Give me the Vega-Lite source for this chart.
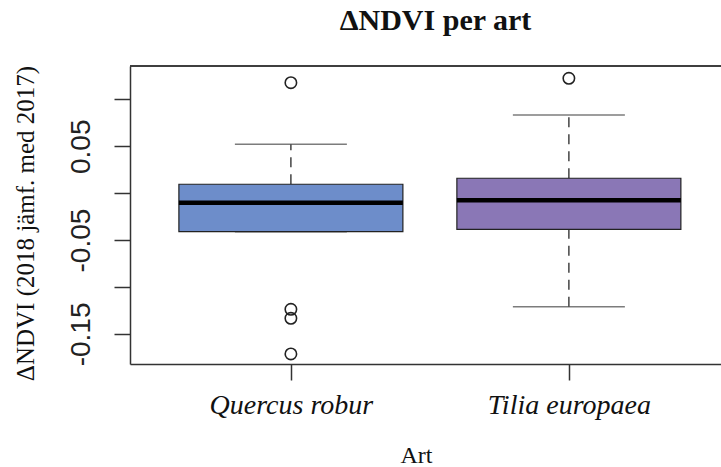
{
  "$schema": "https://vega.github.io/schema/vega-lite/v6.json",
  "autosize": {"type": "none"},
  "padding": {"left": 130, "top": 66, "right": 0, "bottom": 103},
  "width": 591,
  "height": 298,
  "background": "white",
  "view": {"stroke": null},
  "title": {
    "text": "ΔNDVI per art",
    "font": "Liberation Serif",
    "fontSize": 30,
    "fontWeight": "bold",
    "color": "#111",
    "anchor": "middle",
    "frame": "group",
    "dx": 10,
    "baseline": "alphabetic",
    "offset": 5
  },
  "datasets": {
    "box": [
      {"art": "Quercus robur", "lo": -0.041, "q1": -0.041, "median": -0.0101, "q3": 0.0095, "hi": 0.0521},
      {"art": "Tilia europaea", "lo": -0.1209, "q1": -0.0385, "median": -0.0076, "q3": 0.0159, "hi": 0.0833}
    ],
    "outliers": [
      {"art": "Quercus robur", "value": 0.1177},
      {"art": "Quercus robur", "value": -0.1237},
      {"art": "Quercus robur", "value": -0.1333},
      {"art": "Quercus robur", "value": -0.1713},
      {"art": "Tilia europaea", "value": 0.1224}
    ]
  },
  "config": {
    "axis": {"grid": false, "domainColor": "#333", "domainWidth": 1.5, "tickColor": "#333", "tickWidth": 1.5}
  },
  "layer": [
    {
      "data": {"name": "box"},
      "mark": {"type": "rule", "color": "#333", "strokeWidth": 1.5},
      "encoding": {"y": {"datum": 0.1355, "type": "quantitative", "scale": {"domain": [-0.182, 0.1355], "nice": false, "zero": false}}}
    },
    {
      "data": {"name": "box"},
      "mark": {"type": "rule", "color": "#444", "strokeWidth": 1.5, "strokeDash": [10, 7]},
      "encoding": {
        "x": {"field": "art", "type": "nominal"},
        "y": {"field": "q3", "type": "quantitative"},
        "y2": {"field": "hi"}
      }
    },
    {
      "data": {"name": "box"},
      "mark": {"type": "rule", "color": "#444", "strokeWidth": 1.5, "strokeDash": [10, 7]},
      "encoding": {
        "x": {"field": "art", "type": "nominal"},
        "y": {"field": "lo", "type": "quantitative"},
        "y2": {"field": "q1"}
      }
    },
    {
      "data": {"name": "box"},
      "mark": {"type": "tick", "color": "#444", "size": 112, "thickness": 1.5, "orient": "horizontal"},
      "encoding": {
        "x": {"field": "art", "type": "nominal"},
        "y": {"field": "hi", "type": "quantitative"}
      }
    },
    {
      "data": {"name": "box"},
      "mark": {"type": "tick", "color": "#444", "size": 112, "thickness": 1.5, "orient": "horizontal"},
      "encoding": {
        "x": {"field": "art", "type": "nominal"},
        "y": {"field": "lo", "type": "quantitative"}
      }
    },
    {
      "data": {"name": "box"},
      "mark": {"type": "bar", "size": 224, "stroke": "#222", "strokeWidth": 1.2},
      "encoding": {
        "x": {"field": "art", "type": "nominal"},
        "y": {"field": "q1", "type": "quantitative"},
        "y2": {"field": "q3"},
        "color": {"field": "art", "type": "nominal", "scale": {"domain": ["Quercus robur", "Tilia europaea"], "range": ["#6D8DCA", "#8A77B6"]}, "legend": null}
      }
    },
    {
      "data": {"name": "box"},
      "mark": {"type": "tick", "color": "#000000", "size": 224, "thickness": 4.5, "orient": "horizontal", "opacity": 1},
      "encoding": {
        "x": {"field": "art", "type": "nominal"},
        "y": {"field": "median", "type": "quantitative"}
      }
    },
    {
      "data": {"name": "outliers"},
      "mark": {"type": "point", "shape": "circle", "filled": false, "size": 130, "stroke": "#222", "strokeWidth": 1.6, "opacity": 1},
      "encoding": {
        "x": {
          "field": "art",
          "type": "nominal",
          "scale": {"type": "point", "domain": ["Quercus robur", "Tilia europaea"], "padding": 0.563, "align": 0.514},
          "axis": {
            "title": "Art",
            "labelAngle": 0,
            "labelAlign": "center",
            "labelFont": "Liberation Serif",
            "labelFontStyle": "italic",
            "labelFontSize": 28,
            "labelColor": "#111",
            "labelBaseline": "alphabetic",
            "labelPadding": 33,
            "tickSize": 16,
            "titleFont": "Liberation Serif",
            "titleFontSize": 24,
            "titleFontWeight": "normal",
            "titleColor": "#111",
            "titleX": 286,
            "titleY": 98,
            "titleBaseline": "alphabetic",
            "titleAlign": "center"
          }
        },
        "y": {
          "field": "value",
          "type": "quantitative",
          "axis": {
            "title": "ΔNDVI (2018 jämf. med 2017)",
            "values": [-0.15, -0.1, -0.05, 0, 0.05, 0.1],
            "labelExpr": "datum.value == 0.05 ? '0.05' : datum.value == -0.05 ? '-0.05' : datum.value == -0.15 ? '-0.15' : ''",
            "labelOverlap": false,
            "labelFlush": false,
            "labelAngle": -90,
            "labelAlign": "center",
            "labelBaseline": "alphabetic",
            "labelFont": "Liberation Sans",
            "labelFontSize": 28,
            "labelColor": "#222",
            "labelPadding": 25,
            "tickSize": 16,
            "titleFont": "Liberation Serif",
            "titleFontSize": 25,
            "titleFontWeight": "normal",
            "titleColor": "#111",
            "titleAngle": -90,
            "titleX": -97,
            "titleY": 157,
            "titleAlign": "center",
            "titleBaseline": "alphabetic"
          }
        }
      }
    }
  ]
}
